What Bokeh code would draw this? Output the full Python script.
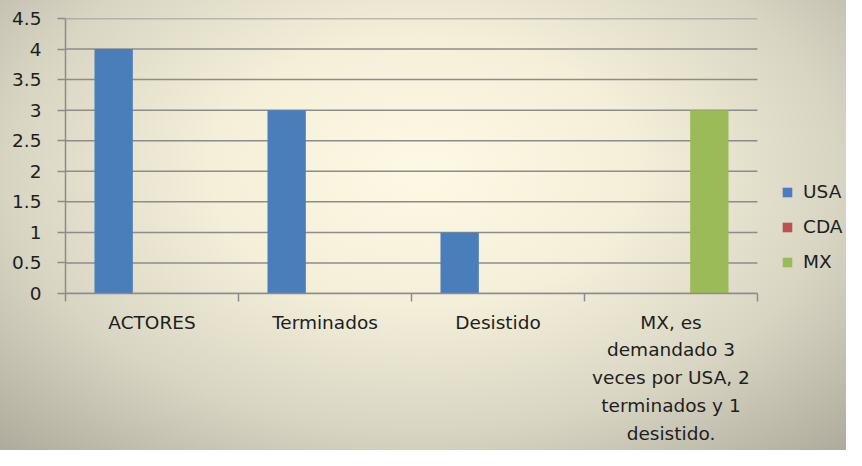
from bokeh.plotting import figure
from bokeh.models import ColumnDataSource, Range1d, FixedTicker, Legend
from bokeh.transform import dodge
from bokeh.embed import file_html
from bokeh.resources import INLINE

categories = ["ACTORES", "Terminados", "Desistido",
              "MX, es\ndemandado 3\nveces por USA, 2\nterminados y 1\ndesistido."]
usa = [4, 3, 1, 0]
cda = [0, 0, 0, 0]
mx = [0, 0, 0, 3]
series = ["USA", "CDA", "MX"]
colors = ["#4a7ebb", "#c0504d", "#9bbb59"]
y_ticks = [0, 0.5, 1, 1.5, 2, 2.5, 3, 3.5, 4, 4.5]
y_labels = ["0", "0.5", "1", "1.5", "2", "2.5", "3", "3.5", "4", "4.5"]

FONT = "DejaVu Sans"
FS = "18.5px"
TXT = "#1e1e1e"
GRID = "#8c8c8c"

W, H = 846, 450
LEFT, TOP, BOTTOM = 65, 18, 157
CAT_W = 692  # pixel width of the category area; the legend sits to its right
ncat = len(categories)
x_end = ncat * (W - LEFT) / CAT_W

centers = [i + 0.5 for i in range(ncat)]
bounds = list(range(ncat + 1))
src = ColumnDataSource(dict(pos=centers, cat=categories, USA=usa, CDA=cda, MX=mx))
gsrc = ColumnDataSource(dict(y=y_ticks, x0=[0] * len(y_ticks), x1=[ncat] * len(y_ticks)))

p = figure(width=W, height=H, x_range=Range1d(0, x_end), y_range=Range1d(0, 4.5),
           output_backend="svg", toolbar_location=None,
           min_border_left=LEFT, min_border_right=0, min_border_top=TOP, min_border_bottom=BOTTOM)
p.border_fill_color = None
p.background_fill_color = None
p.outline_line_color = None
p.styles = {"background-image": "radial-gradient(ellipse 72% 85% at 50% 38%, #fdf9e4 0%, #f3efd9 35%, #d8d5c3 68%, #afac9d 100%)"}

# horizontal gridlines limited to the category area
p.segment(x0="x0", x1="x1", y0="y", y1="y", source=gsrc, line_color=GRID, line_width=1.5)
p.xgrid.grid_line_color = None
p.ygrid.grid_line_color = None

bw = 0.2216
items = []
for k, (name, col) in enumerate(zip(series, colors)):
    r = p.vbar(x=dodge("pos", (k - 1) * bw), top=name, width=bw, source=src,
               fill_color=col, line_color=None)
    items.append((name, [r]))

# y axis
yax = p.yaxis[0]
yax.ticker = FixedTicker(ticks=y_ticks, minor_ticks=[])
yax.major_label_overrides = {t: l for t, l in zip(y_ticks, y_labels)}
yax.axis_line_color = GRID
yax.axis_line_width = 1.5
yax.major_tick_line_color = GRID
yax.major_tick_line_width = 1.5
yax.major_tick_out = 8
yax.major_tick_in = 0
yax.minor_tick_line_color = None
yax.major_label_standoff = 16
yax.major_label_text_font = FONT
yax.major_label_text_font_size = FS
yax.major_label_text_color = TXT
yax.axis_label = None

# x axis: labels at category centres, tick marks at boundaries
xax = p.xaxis[0]
xax.bounds = (0, ncat)
xax.ticker = FixedTicker(ticks=centers, minor_ticks=bounds)
xax.major_label_overrides = {c: n for c, n in zip(centers, categories)}
xax.axis_line_color = GRID
xax.axis_line_width = 1.5
xax.major_tick_line_color = None
xax.major_tick_out = 0
xax.major_tick_in = 0
xax.minor_tick_line_color = GRID
xax.minor_tick_line_width = 1.5
xax.minor_tick_out = 8
xax.minor_tick_in = 0
xax.major_label_standoff = 10
xax.major_label_text_font = FONT
xax.major_label_text_font_size = FS
xax.major_label_text_color = TXT
xax.major_label_text_line_height = 1.33
xax.axis_label = None

lg = Legend(items=items, location=(CAT_W + 24, 21))
lg.background_fill_alpha = 0
lg.border_line_color = None
lg.padding = 0
lg.margin = 0
lg.glyph_width = 12
lg.glyph_height = 12
lg.label_height = 20
lg.spacing = 14
lg.label_standoff = 10
lg.label_text_font = FONT
lg.label_text_font_size = FS
lg.label_text_color = TXT
p.add_layout(lg)

open("out.html", "w").write(file_html(p, INLINE))
